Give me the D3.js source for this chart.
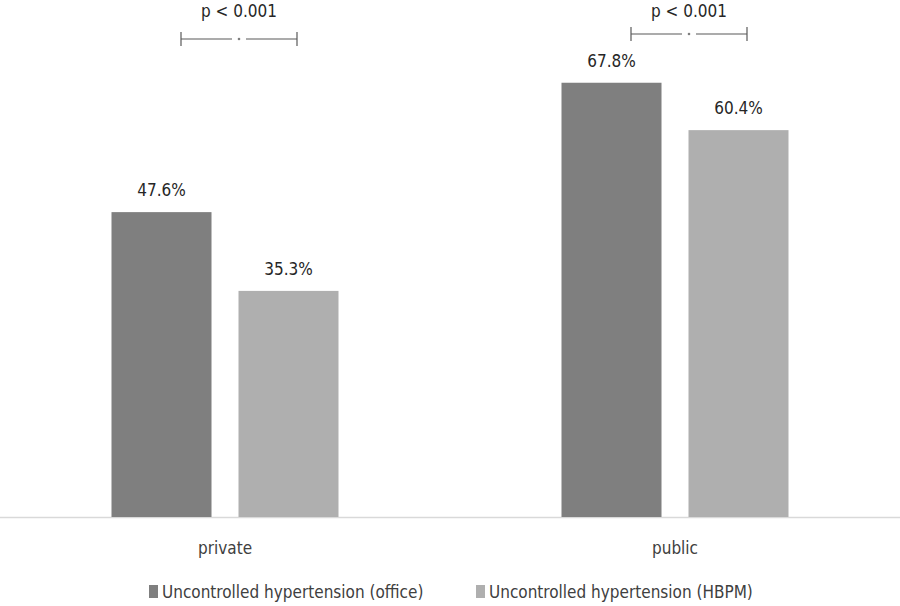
<!DOCTYPE html>
<html lang="en">
<head>
<meta charset="utf-8">
<title>Uncontrolled hypertension</title>
<script src="https://d3js.org/d3.v7.min.js"></script>
<style>
  body { margin: 0; background: #fff; }
  text { font-family: "DejaVu Sans Condensed", "Liberation Sans Narrow", sans-serif; }
</style>
</head>
<body>
<script type="text/javascript">
    var categories = ["private", "public"];
    var seriesNames = ["Uncontrolled hypertension (office)", "Uncontrolled hypertension (HBPM)"];
    var officeValues = [47.6, 67.8];
    var hbpmValues = [35.3, 60.4];
    var pLabels = ["p < 0.001", "p < 0.001"];
    var colors = ["#7f7f7f", "#afafaf"];

    var w = 900, h = 606;
    var baseline = 517;

    var svg = d3.select("body").append("svg")
        .attr("width", w)
        .attr("height", h);

    var x0 = d3.scaleBand().domain(categories).range([0, w]);
    var x1 = d3.scaleBand().domain(seriesNames)
        .range([-113.5, 113.5])
        .paddingInner(27 / 127);
    var y = d3.scaleLinear().domain([0, 80]).range([baseline, baseline - 80 * 6.405]);

    // axis line
    svg.append("line")
        .attr("x1", 0).attr("x2", w)
        .attr("y1", baseline + 0.5).attr("y2", baseline + 0.5)
        .attr("stroke", "#d9d9d9").attr("stroke-width", 1.5);

    var rows = categories.map(function(c, i) {
        return { cat: c, vals: [officeValues[i], hbpmValues[i]] };
    });

    var groups = svg.selectAll("g.grp")
        .data(rows)
        .enter().append("g")
        .attr("class", "grp")
        .attr("transform", function(d) { return "translate(" + (x0(d.cat) + x0.bandwidth() / 2) + ",0)"; });

    var cells = groups.selectAll("g.cell")
        .data(function(d) { return d.vals.map(function(v, j) { return { s: seriesNames[j], v: v, j: j }; }); })
        .enter().append("g").attr("class", "cell");

    cells.append("rect")
        .attr("x", function(d) { return x1(d.s); })
        .attr("width", x1.bandwidth())
        .attr("y", function(d) { return y(d.v); })
        .attr("height", function(d) { return baseline - y(d.v); })
        .attr("fill", function(d) { return colors[d.j]; });

    cells.append("text")
        .attr("x", function(d) { return x1(d.s) + x1.bandwidth() / 2; })
        .attr("y", function(d) { return y(d.v) - 16; })
        .attr("text-anchor", "middle")
        .attr("font-size", 17)
        .attr("fill", "#262626")
        .text(function(d) { return d.v.toFixed(1) + "%"; });

    // category labels
    groups.append("text")
        .attr("x", 0)
        .attr("y", 554)
        .attr("text-anchor", "middle")
        .attr("font-size", 17)
        .attr("fill", "#404040")
        .text(function(d) { return d.cat; });

    // significance brackets
    var brY = [39, 34];
    var br = groups.append("g")
        .attr("transform", function(d, i) { return "translate(" + 14 + "," + brY[i] + ")"; })
        .attr("stroke", "#595959").attr("stroke-width", 1.2);
    br.append("line").attr("x1", -58).attr("x2", -7).attr("y1", 0).attr("y2", 0);
    br.append("line").attr("x1", 7).attr("x2", 58).attr("y1", 0).attr("y2", 0);
    br.append("line").attr("x1", -58).attr("x2", -58).attr("y1", -7).attr("y2", 7);
    br.append("line").attr("x1", 58).attr("x2", 58).attr("y1", -7).attr("y2", 7);
    br.append("circle").attr("r", 1.3).attr("fill", "#7f7f7f").attr("stroke", "none");

    groups.append("text")
        .attr("x", 14)
        .attr("y", 17)
        .attr("text-anchor", "middle")
        .attr("font-size", 17)
        .attr("fill", "#262626")
        .text(function(d, i) { return pLabels[i]; });

    // legend
    var legX = [149, 476];
    var leg = svg.selectAll("g.leg")
        .data(seriesNames)
        .enter().append("g")
        .attr("class", "leg")
        .attr("transform", function(d, i) { return "translate(" + legX[i] + ",585)"; });
    leg.append("rect").attr("x", 0).attr("y", 0).attr("width", 9).attr("height", 13)
        .attr("fill", function(d, i) { return colors[i]; });
    leg.append("text").attr("x", 13).attr("y", 13)
        .attr("font-size", 17)
        .attr("fill", "#404040")
        .text(function(d) { return d; });
</script>
</body>
</html>
